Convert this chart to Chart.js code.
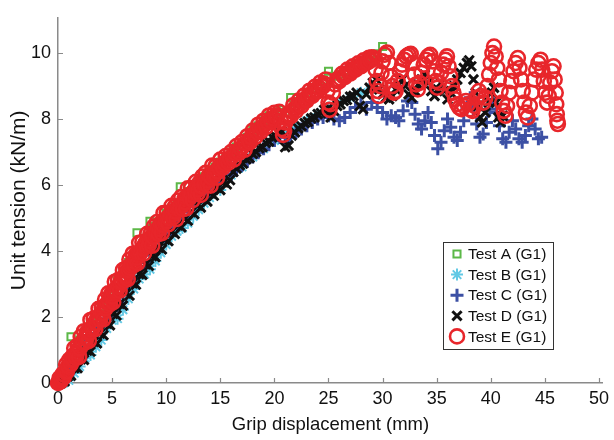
<!DOCTYPE html>
<html>
<head>
<meta charset="utf-8">
<script src="https://cdn.jsdelivr.net/npm/chart.js@4.4.0/dist/chart.umd.min.js"></script>
<style>
  html, body { margin: 0; padding: 0; background: #fff; }
  #wrap { width: 614px; height: 440px; }
</style>
</head>
<body>
<div id="wrap"><canvas id="chart" width="614" height="440"></canvas></div>
<script>
// tick values and labels
const xTicks = [0, 5, 10, 15, 20, 25, 30, 35, 40, 45, 50];
const yTicks = [0, 2, 4, 6, 8, 10];
const seriesNames = ["Test A (G1)", "Test B (G1)", "Test C (G1)", "Test D (G1)", "Test E (G1)"];

// [grip displacement (mm), unit tension (kN/m)]
const testA = [
  [0.5,0.35],[1,0.7],[1.2,1.4],[2,1.3],[2.5,1.55],[3,1.82],[3.5,2.05],[4,2.32],[4.5,2.55],[5,2.85],
  [5.5,3.1],[6,3.35],[6.5,3.65],[7,3.9],[7.3,4.55],[8,4.38],[8.5,4.9],[9,4.75],[9.5,4.95],[10,5.15],
  [10.5,5.3],[11,5.45],[11.3,5.95],[12,5.8],[12.5,5.95],[13,6.1],[13.5,6.25],[14,6.4],[14.5,6.55],[15,6.7],
  [15.5,6.85],[16,7.0],[16.5,7.15],[17,7.3],[17.5,7.45],[18,7.65],[18.5,7.8],[19,7.95],[19.5,8.1],[20,8.2],
  [20.5,8.28],[21,8.2],[21.5,8.65],[22,8.5],[22.5,8.65],[23,8.8],[23.5,8.93],[24,9.05],[24.5,9.18],[25,9.45],
  [25.5,9.3],[26,9.36],[26.5,9.47],[27,9.57],[27.5,9.66],[28,9.76],[28.5,9.85],[29,9.92],[29.5,9.98],[30,10.2]
];
const testB = [
  [0.5,0.0],[1,0.08],[1.5,0.3],[2,0.5],[2.5,0.75],[3,0.85],[3.5,1.1],[4,1.3],[4.5,1.65],[5,1.9],
  [5.5,1.95],[6,2.22],[6.5,2.55],[7,2.85],[7.5,3.15],[8,3.3],[8.5,3.45],[9,3.7],[9.5,3.95],[10,4.2],
  [10.5,4.45],[11,4.6],[11.5,4.7],[12,4.85],[12.5,5.05],[13,5.25],[13.5,5.45],[14,5.62],[15,5.85],[16,6.3],
  [17,6.55],[18,6.85],[19,7.1],[20,7.35],[21,7.55],[22,7.75],[23,7.95],[24,8.15],[25,8.35],[26,8.5],
  [27,8.65],[28,8.8],[29,8.95]
];
const testC = [
  [0.5,0.12],[1,0.35],[1.5,0.6],[2,0.85],[2.5,1.05],[3,1.3],[3.5,1.5],[4,1.75],[4.5,1.95],[5,2.2],
  [5.5,2.45],[6,2.7],[6.5,2.95],[7,3.2],[7.5,3.45],[8,3.65],[8.5,3.88],[9,4.1],[9.5,4.3],[10,4.5],
  [10.5,4.7],[11,4.88],[11.5,5.05],[12,5.2],[12.5,5.38],[13,5.5],[13.5,5.65],[14,5.72],[14.5,5.92],[15,6.05],
  [15.5,6.2],[16,6.32],[16.5,6.45],[17,6.6],[17.5,6.72],[18,6.85],[18.5,6.98],[19,7.1],[19.5,7.22],[20,7.35],
  [20.5,7.45],[21,7.3],[21.5,7.45],[22,7.6],[22.5,7.7],[23,7.8],[23.5,7.9],[24,8.0],[24.5,8.05],[25,8.1],
  [25.5,8.0],[26,7.95],[26.5,8.05],[27,8.2],[27.5,8.35],[28,8.45],[28.5,8.3],[29,8.5],[29.5,8.35],[30,8.2],
  [30.4,8.0],[30.8,8.1],[31.2,8.05],[31.5,7.95],[31.9,8.25],[32.3,8.55],[32.7,8.5],[33,8.15],[33.3,7.85],[33.6,7.7],
  [33.9,7.95],[34.2,8.2],[34.5,7.9],[34.8,7.5],[35.1,7.1],[35.4,7.3],[35.7,7.65],[36,8.0],[36.3,7.75],[36.6,7.45],
  [36.9,7.35],[37.2,7.6],[37.5,7.95],[37.8,8.35],[38.1,8.65],[38.4,8.3],[38.7,7.85],[39,7.45],[39.3,7.55],[39.6,7.9],
  [39.9,8.3],[40.2,8.6],[40.5,8.2],[40.8,7.8],[41.1,7.4],[41.4,7.3],[41.7,7.6],[42,7.95],[42.3,7.7],[42.6,7.4],
  [42.9,7.3],[43.2,7.5],[43.5,7.8],[43.8,8.0],[44.1,7.7],[44.4,7.4],[44.7,7.45]
];
const testD = [
  [0.3,0.0],[0.6,0.05],[0.9,0.2],[1.2,0.22],[1.5,0.45],[1.8,0.45],[2.1,0.72],[2.4,0.7],[2.7,0.98],[3,0.95],
  [3.3,1.25],[3.6,1.2],[3.9,1.5],[4.2,1.45],[4.5,1.8],[4.8,1.75],[5.1,2.1],[5.4,2.05],[5.7,2.4],[6,2.35],
  [6.3,2.72],[6.6,2.65],[6.9,3.02],[7.2,2.98],[7.5,3.3],[7.8,3.28],[8.1,3.6],[8.4,3.55],[8.7,3.85],[9,3.82],
  [9.3,4.1],[9.6,4.05],[9.9,4.35],[10.2,4.3],[10.5,4.58],[10.8,4.52],[11.1,4.78],[11.4,4.72],[11.7,4.98],[12,4.92],
  [12.3,5.18],[12.6,5.12],[12.9,5.38],[13.2,5.32],[13.5,5.58],[13.8,5.5],[14.1,5.75],[14.4,5.68],[14.7,5.92],[15,5.85],
  [15.3,6.08],[15.6,6.02],[15.9,6.15],[16.2,6.4],[16.5,6.5],[16.8,6.6],[17.1,6.65],[17.4,6.78],[17.7,6.82],[18,6.95],
  [18.3,7.0],[18.6,7.12],[18.9,7.15],[19.2,7.28],[19.5,7.32],[19.8,7.45],[20.1,7.48],[20.4,7.6],[20.7,7.62],[21,7.15],
  [21.3,7.2],[21.6,7.5],[21.9,7.6],[22.2,7.72],[22.5,7.78],[22.8,7.88],[23.1,7.92],[23.4,8.02],[23.7,8.05],[24,8.15],
  [24.3,8.18],[24.6,8.28],[24.9,8.3],[25.2,8.05],[25.5,8.25],[25.8,8.4],[26.1,8.45],[26.4,8.55],[26.7,8.58],[27,8.68],
  [27.3,8.7],[27.6,8.8],[27.9,8.4],[28.2,8.3],[28.5,8.75],[28.8,8.95],[29.1,9.1],[29.4,9.2],[29.7,8.9],[30,8.75],
  [30.3,8.65],[30.6,8.6],[30.9,8.7],[31.2,8.9],[31.5,9.05],[31.8,9.2],[32.1,9.0],[32.4,8.75],[32.7,8.65],[33,8.85],
  [33.3,9.05],[33.6,9.2],[33.9,9.35],[34.2,9.1],[34.5,8.85],[34.8,8.7],[35.1,8.9],[35.4,9.1],[35.7,8.85],[36,8.6],
  [36.3,8.8],[36.6,9.0],[36.9,9.2],[37.2,9.4],[37.5,9.55],[37.8,9.7],[38,9.78],[38.2,9.6],[38.4,9.2],[38.6,8.8],
  [38.8,8.4],[39,8.05],[39.2,7.9],[39.5,8.2],[39.8,8.5],[40.1,8.8],[40.3,8.95],[40.5,8.5],[40.7,8.05],[40.9,7.9],
  [41.1,8.1]
];
const testE = [
  [0,0],[0.075,0.02],[0.15,0.15],[0.225,0.05],[0.3,0.08],[0.375,0.15],[0.45,0.28],[0.525,0.17],[0.6,0.24],[0.675,0.33],
  [0.75,0.56],[0.825,0.35],[0.9,0.48],[0.975,0.5],[1.05,0.7],[1.125,0.54],[1.2,0.58],[1.275,0.69],[1.35,0.81],[1.425,0.71],
  [1.5,1.05],[1.575,0.87],[1.65,0.76],[1.725,0.89],[1.8,1.13],[1.875,1.03],[1.95,0.79],[2.025,1.05],[2.1,1.4],[2.175,1.21],
  [2.25,1.23],[2.325,1.22],[2.4,1.57],[2.475,1.36],[2.55,1.23],[2.625,1.37],[2.7,1.55],[2.775,1.51],[2.85,1.28],[2.925,1.53],
  [3,1.91],[3.075,1.66],[3.15,1.63],[3.225,1.67],[3.3,1.95],[3.375,1.81],[3.45,1.63],[3.525,1.82],[3.6,1.95],[3.675,1.96],
  [3.75,2.25],[3.825,1.97],[3.9,1.92],[3.975,2.11],[4.05,2.28],[4.125,2.12],[4.2,1.93],[4.275,2.26],[4.35,2.53],[4.425,2.27],
  [4.5,2.35],[4.575,2.43],[4.65,2.72],[4.725,2.45],[4.8,2.39],[4.875,2.6],[4.95,2.72],[5.025,2.62],[5.1,2.45],[5.175,2.75],
  [5.25,3.07],[5.325,2.77],[5.4,2.8],[5.475,2.91],[5.55,3.12],[5.625,2.92],[5.7,2.8],[5.775,3.05],[5.85,3.12],[5.925,3.07],
  [6,3.42],[6.075,3.21],[6.15,3.11],[6.225,3.24],[6.3,3.48],[6.375,3.39],[6.45,3.15],[6.525,3.42],[6.6,3.74],[6.675,3.49],
  [6.75,3.57],[6.825,3.63],[6.9,3.92],[6.975,3.65],[7.05,3.58],[7.125,3.78],[7.2,3.9],[7.275,3.8],[7.35,3.63],[7.425,3.93],
  [7.5,4.25],[7.575,3.94],[7.65,3.96],[7.725,4.06],[7.8,4.27],[7.875,4.07],[7.95,3.93],[8.025,4.19],[8.1,4.24],[8.175,4.19],
  [8.25,4.52],[8.325,4.31],[8.4,4.18],[8.475,4.3],[8.55,4.52],[8.625,4.43],[8.7,4.16],[8.775,4.43],[8.85,4.74],[8.925,4.55],
  [9,4.55],[9.075,4.55],[9.15,4.88],[9.225,4.67],[9.3,4.52],[9.375,4.67],[9.45,4.83],[9.525,4.79],[9.6,4.54],[9.675,4.79],
  [9.75,5.15],[9.825,4.91],[9.9,4.86],[9.975,4.9],[10.05,5.16],[10.125,5.01],[10.2,4.81],[10.275,5.0],[10.35,5.1],[10.425,5.11],
  [10.5,5.37],[10.575,5.1],[10.65,5.02],[10.725,5.21],[10.8,5.35],[10.875,5.19],[10.95,4.97],[11.025,5.29],[11.1,5.53],[11.175,5.28],
  [11.25,5.33],[11.325,5.38],[11.4,5.64],[11.475,5.37],[11.55,5.27],[11.625,5.48],[11.7,5.58],[11.775,5.48],[11.85,5.29],[11.925,5.6],
  [12,5.9],[12.075,5.6],[12.15,5.6],[12.225,5.71],[12.3,5.91],[12.375,5.7],[12.45,5.54],[12.525,5.79],[12.6,5.83],[12.675,5.78],
  [12.75,6.1],[12.825,5.88],[12.9,5.74],[12.975,5.86],[13.05,6.06],[13.125,5.97],[13.2,5.7],[13.275,5.96],[13.35,6.26],[13.425,6.06],
  [13.5,6.05],[13.575,6.05],[13.65,6.37],[13.725,6.16],[13.8,6.0],[13.875,6.14],[13.95,6.29],[14.025,6.24],[14.1,5.98],[14.175,6.23],
  [14.25,6.59],[14.325,6.34],[14.4,6.28],[14.475,6.32],[14.55,6.57],[14.625,6.43],[14.7,6.22],[14.775,6.41],[14.85,6.51],[14.925,6.51],
  [15,6.77],[15.125,6.6],[15.25,6.53],[15.375,6.67],[15.5,6.88],[15.625,6.74],[15.75,6.68],[15.875,6.81],[16,7.0],[16.125,6.88],
  [16.25,6.77],[16.375,6.96],[16.5,7.18],[16.625,7.04],[16.75,6.98],[16.875,7.11],[17,7.3],[17.125,7.18],[17.25,7.07],[17.375,7.26],
  [17.5,7.48],[17.625,7.35],[17.75,7.3],[17.875,7.45],[18,7.65],[18.125,7.54],[18.25,7.46],[18.375,7.61],[18.5,7.83],[18.625,7.68],
  [18.75,7.62],[18.875,7.76],[19,7.95],[19.125,7.84],[19.25,7.76],[19.375,7.91],[19.5,8.11],[19.625,7.97],[19.75,7.92],[19.875,8.02],
  [20,8.19],[20.125,8.1],[20.25,8.05],[20.45,8.22],[20.6,7.95],[20.7,7.7],[20.8,7.52],[20.9,7.65],[21,7.9],[21.125,8.02],
  [21.25,8.15],[21.375,8.12],[21.5,8.08],[21.625,8.23],[21.75,8.42],[21.875,8.32],[22,8.25],[22.125,8.38],[22.25,8.56],[22.375,8.46],
  [22.5,8.4],[22.625,8.53],[22.75,8.71],[22.875,8.61],[23,8.57],[23.125,8.68],[23.25,8.86],[23.375,8.75],[23.5,8.7],[23.625,8.81],
  [23.75,8.98],[23.875,8.88],[24,8.84],[24.125,8.95],[24.25,9.11],[24.375,9.01],[24.5,8.99],[24.625,9.07],[24.75,9.2],[24.9,8.85],
  [25,8.5],[25.1,8.28],[25.2,8.45],[25.4,8.8],[25.6,9.05],[25.8,9.2],[25.9,9.15],[26,9.15],[26.125,9.23],[26.25,9.37],
  [26.375,9.3],[26.5,9.27],[26.625,9.36],[26.75,9.5],[26.875,9.41],[27,9.38],[27.125,9.46],[27.25,9.6],[27.375,9.51],[27.5,9.5],
  [27.625,9.55],[27.75,9.69],[27.875,9.6],[28,9.6],[28.125,9.65],[28.25,9.78],[28.375,9.69],[28.5,9.7],[28.625,9.73],[28.75,9.86],
  [28.875,9.77],[29,9.87],[29.2,9.85],[29.35,9.5],[29.45,9.15],[29.55,8.85],[29.65,8.7],[29.8,9.0],[29.9,9.4],
  [30,9.75],[30.2,9.95],[30.4,10.02],[30.6,9.7],[30.75,9.3],[30.9,9.0],[31.05,8.8],[31.2,8.85],[31.4,9.15],[31.6,9.45],
  [31.8,9.65],[32,9.8],[32.2,9.9],[32.4,9.95],[32.6,9.98],[32.8,9.7],[32.95,9.35],[33.1,9.05],[33.25,8.9],[33.4,9.1],
  [33.6,9.4],[33.8,9.65],[34,9.8],[34.2,9.9],[34.4,9.95],[34.6,9.75],[34.75,9.45],[34.9,9.15],[35.05,8.95],[35.2,9.1],
  [35.4,9.4],[35.6,9.65],[35.8,9.8],[35.95,9.9],[36.1,9.6],[36.25,9.3],[36.4,9.0],[36.55,8.8],[36.7,8.6],[36.9,8.45],
  [37.1,8.35],[37.3,8.3],[37.5,8.4],[37.7,8.55],[37.9,8.45],[38.1,8.3],[38.3,8.25],[38.5,8.4],[38.7,8.65],[38.9,8.85],
  [39.1,8.7],[39.3,8.5],[39.5,8.65],[39.7,9.0],[39.85,9.35],[40,9.7],[40.15,10.0],[40.3,10.2],[40.45,9.9],[40.6,9.55],
  [40.75,9.2],[40.9,8.85],[41.05,8.5],[41.2,8.25],[41.35,8.1],[41.5,8.4],[41.7,8.8],[41.9,9.15],[42.1,9.45],[42.3,9.7],
  [42.5,9.85],[42.65,9.55],[42.8,9.2],[42.95,8.85],[43.1,8.5],[43.25,8.2],[43.4,8.05],[43.6,8.4],[43.8,8.8],[44,9.2],
  [44.2,9.5],[44.4,9.7],[44.6,9.8],[44.75,9.5],[44.9,9.15],[45.05,8.8],[45.2,8.5],[45.35,8.7],[45.5,9.1],[45.65,9.45],
  [45.8,9.6],[45.9,9.2],[46,8.8],[46.05,8.45],[46.1,8.15],[46.15,7.95],[46.2,7.85]
];

const toPoints = (arr) => arr.map(([x, y]) => ({ x, y }));

const axisGrey = "#8a8a8a";
const textFont = "'Liberation Sans', Arial, Helvetica, sans-serif";

// small tick marks pointing into the plot, like the original
const innerTicks = {
  id: "innerTicks",
  beforeDatasetsDraw(chart) {
    const { ctx, chartArea, scales } = chart;
    ctx.save();
    ctx.strokeStyle = axisGrey;
    ctx.lineWidth = 1.2;
    ctx.beginPath();
    scales.x.ticks.forEach((t) => {
      const px = Math.round(scales.x.getPixelForValue(t.value)) + 0.5;
      ctx.moveTo(px, chartArea.bottom);
      ctx.lineTo(px, chartArea.bottom - 5);
    });
    scales.y.ticks.forEach((t) => {
      const py = Math.round(scales.y.getPixelForValue(t.value)) + 0.5;
      ctx.moveTo(chartArea.left, py);
      ctx.lineTo(chartArea.left + 5, py);
    });
    ctx.stroke();
    ctx.restore();
  },
};

// boxed legend in the lower right of the plot
const boxLegend = {
  id: "boxLegend",
  afterDraw(chart) {
    const { ctx } = chart;
    const bx = 443, by = 242, bw = 110, bh = 107;
    ctx.save();
    ctx.fillStyle = "#fff";
    ctx.fillRect(bx, by, bw, bh);
    ctx.strokeStyle = "#333";
    ctx.lineWidth = 1;
    ctx.strokeRect(bx + 0.5, by + 0.5, bw, bh);
    ctx.font = "15.5px " + textFont;
    ctx.textBaseline = "middle";
    chart.data.datasets.forEach((ds, i) => {
      const cy = by + 12 + i * 20.6;
      const cx = bx + 14;
      ctx.fillStyle = ds.backgroundColor;
      ctx.strokeStyle = ds.borderColor;
      ctx.lineWidth = ds.pointBorderWidth;
      Chart.helpers.drawPoint(ctx, {
        pointStyle: ds.pointStyle,
        radius: ds.pointRadius,
        borderWidth: ds.pointBorderWidth,
        rotation: 0,
      }, cx, cy);
      ctx.fillStyle = "#111";
      ctx.fillText(ds.label, bx + 25, cy + 1);
    });
    ctx.restore();
  },
};

const seriesData = [testA, testB, testC, testD, testE];
const styles = [
  { pointStyle: "rect", pointRadius: 5, pointBorderWidth: 2, borderColor: "#5cb848", order: 5 },
  { pointStyle: "star", pointRadius: 6, pointBorderWidth: 2, borderColor: "#62c9e5", order: 4 },
  { pointStyle: "cross", pointRadius: 6.5, pointBorderWidth: 3, borderColor: "#3c50a4", order: 3 },
  { pointStyle: "crossRot", pointRadius: 6.5, pointBorderWidth: 3, borderColor: "#111111", order: 2 },
  { pointStyle: "circle", pointRadius: 7, pointBorderWidth: 2.6, borderColor: "#e8262b", order: 1 },
];

const datasets = seriesData.map((arr, i) => ({
  label: seriesNames[i],
  data: toPoints(arr),
  backgroundColor: "rgba(0,0,0,0)",
  showLine: false,
  clip: false,
  ...styles[i],
}));

new Chart(document.getElementById("chart"), {
  type: "scatter",
  data: { datasets },
  options: {
    responsive: false,
    animation: false,
    layout: { autoPadding: false, padding: { top: 10, right: 0, left: 0, bottom: 0 } },
    plugins: {
      legend: { display: false },
      tooltip: { enabled: false },
    },
    scales: {
      x: {
        type: "linear",
        min: 0,
        max: 50.37,
        afterBuildTicks: (s) => { s.ticks = xTicks.map((v) => ({ value: v })); },
        afterFit: (s) => { s.height = 57; },
        grid: { display: false, drawTicks: false },
        border: { display: true, color: axisGrey, width: 1.5 },
        ticks: {
          color: "#111",
          font: { family: textFont, size: 18 },
          padding: 5,
          maxRotation: 0,
          autoSkip: false,
        },
        title: {
          display: true,
          text: "Grip displacement (mm)",
          color: "#111",
          font: { family: textFont, size: 18.5 },
          padding: { top: 0, bottom: 4 },
        },
      },
      y: {
        type: "linear",
        min: 0,
        max: 11.07,
        afterBuildTicks: (s) => { s.ticks = yTicks.map((v) => ({ value: v })); },
        afterFit: (s) => { s.width = 58; },
        grid: { display: false, drawTicks: false },
        border: { display: true, color: axisGrey, width: 1.5 },
        ticks: {
          color: "#111",
          font: { family: textFont, size: 18 },
          padding: 7,
        },
        title: {
          display: true,
          text: "Unit tension (kN/m)",
          color: "#111",
          font: { family: textFont, size: 21 },
          padding: { top: 7, bottom: 0 },
        },
      },
    },
  },
  plugins: [innerTicks, boxLegend],
});
</script>
</body>
</html>
